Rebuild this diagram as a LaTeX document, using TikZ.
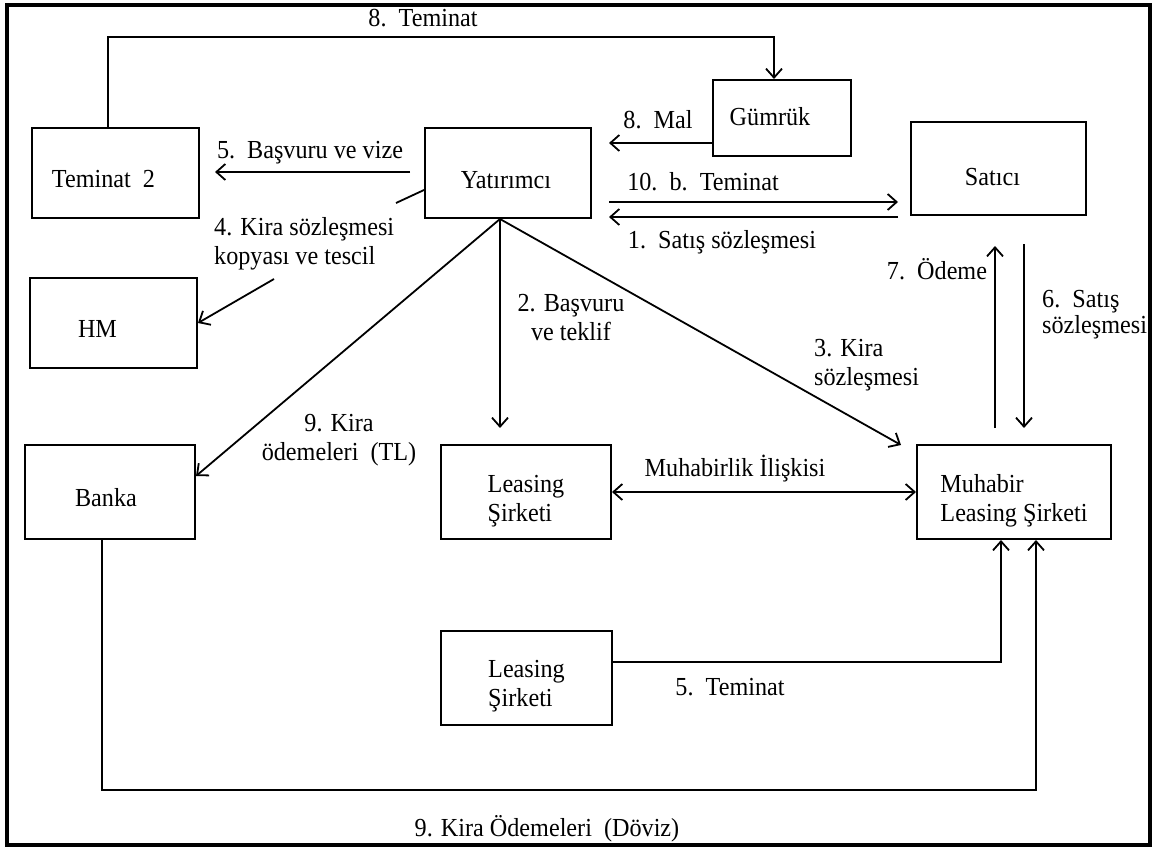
\documentclass[tikz,border=0pt]{standalone}
\usepackage{fontspec}
\setmainfont{Liberation Serif}[FakeStretch=0.93]
\usetikzlibrary{arrows.meta,calc}
\newcommand\bt[3]{\raisebox{#2}[0pt][0pt]{\hspace*{#1}\begin{tabular}{@{}l@{}}#3\end{tabular}\hspace*{-#1}}}
\begin{document}
\begin{tikzpicture}[x=1pt,y=-1pt,
  every node/.style={font=\fontsize{26}{29}\selectfont},
  box/.style={draw, line width=2pt, inner sep=0pt},
  lbl/.style={inner sep=0pt},
  ln/.style={line width=1.8pt},
  arr/.style={line width=1.8pt, -{Straight Barb[length=9pt,width=16pt]}},
  darr/.style={line width=1.8pt, {Straight Barb[length=9pt,width=16pt]}-{Straight Barb[length=9pt,width=16pt]}}]
\useasboundingbox (0,0) rectangle (1157,848);
\draw[line width=4.5pt] (7,5) rectangle (1150,845);

% boxes
\node[box, minimum width=167pt, minimum height=90pt] (tem2) at (115.5,173) {\bt{-12pt}{-15pt}{Teminat\ \ 2}};
\node[box, minimum width=166pt, minimum height=90pt] (yat) at (508,173) {\bt{-2pt}{-16pt}{Yatırımcı}};
\node[box, minimum width=138pt, minimum height=76pt] (gum) at (782,118) {\bt{-12pt}{-8pt}{Gümrük}};
\node[box, minimum width=175pt, minimum height=93pt] (sat) at (998.5,168.5) {\bt{-6pt}{-17pt}{Satıcı}};
\node[box, minimum width=167pt, minimum height=90pt] (hm) at (113.5,323) {\bt{-16pt}{-15pt}{HM}};
\node[box, minimum width=170pt, minimum height=94pt] (banka) at (110,492) {\bt{-4pt}{-15pt}{Banka}};
\node[box, minimum width=170pt, minimum height=94pt] (leas1) at (526,492) {\bt{0pt}{-15pt}{Leasing\\Şirketi}};
\node[box, minimum width=194pt, minimum height=94pt] (muh) at (1014,492) {\bt{0pt}{-15pt}{Muhabir\\Leasing Şirketi}};
\node[box, minimum width=171pt, minimum height=94pt] (leas2) at (526.5,678) {\bt{0pt}{-14pt}{Leasing\\Şirketi}};

\coordinate (ys) at (yat.south -| 500,0);

% connectors
\draw[arr] (108,0 |- tem2.north) -- (108,37) -- (774,37) -- (774,0 |- gum.north);
\draw[arr, shorten >=17pt] (gum.west |- 0,143) -- (yat.east |- 0,143);
\draw[arr, shorten <=14pt, shorten >=15pt] (yat.west |- 0,172) -- (tem2.east |- 0,172);
\draw[arr, shorten <=17pt, shorten >=12pt] (yat.east |- 0,202) -- (sat.west |- 0,202);
\draw[arr, shorten <=12pt, shorten >=17pt] (sat.west |- 0,217) -- (yat.east |- 0,217);
\draw[arr] (yat.west |- 0,190) -- (396,203) (274,279) -- (hm.east);
\draw[arr] (ys) -- (banka.east |- 0,476);
\draw[arr, shorten >=16pt] (ys) -- (leas1.north -| 500,0);
\draw[arr] (ys) -- ($(muh.north west)+(-15,1)$);
\draw[darr] (leas1.east) -- (muh.west);
\draw[arr, shorten <=16pt, shorten >=30pt] (muh.north -| 995,0) -- (sat.south -| 995,0);
\draw[arr, shorten <=28pt, shorten >=16pt] (sat.south -| 1024,0) -- (muh.north -| 1024,0);
\draw[arr] (leas2.east |- 0,662) -| (muh.south -| 1001,0);
\draw[arr] (banka.south -| 102,0) -- (102,790) -| (muh.south -| 1036,0);

% labels
\node[lbl] (l8t) at (423,18) {8.\ \ Teminat};
\node[lbl] (l8m) at (658,120) {8.\ \ Mal};
\node[lbl] (l5b) at (310,153) {5.\ \ Başvuru ve vize};
\node[lbl] (l10) at (703,182) {10.\ \ b.\ \ Teminat};
\node[lbl] (l1s) at (722,242) {1.\ \ Satış sözleşmesi};
\node[lbl, anchor=west, align=left] (l4k) at (214,243.5) {4. Kira sözleşmesi\\kopyası ve tescil};
\node[lbl, align=center] (l2b) at (571,317.5) {2. Başvuru\\ve teklif};
\node[lbl, anchor=west, align=left] (l3k) at (814,365) {3. Kira\\sözleşmesi};
\node[lbl, align=center] (l9k) at (339,440.5) {9. Kira\\ödemeleri\ \ (TL)};
\node[lbl] (lmi) at (735,469) {Muhabirlik İlişkisi};
\node[lbl] (l7o) at (937,269) {7.\ \ Ödeme};
\node[lbl, anchor=west, align=left, font=\fontsize{26}{26}\selectfont] (l6s) at (1042,315) {6.\ \ Satış\\sözleşmesi};
\node[lbl] (l5t) at (730,687) {5.\ \ Teminat};
\node[lbl] (l9d) at (547,829) {9. Kira Ödemeleri\ \ (Döviz)};
\end{tikzpicture}
\end{document}
